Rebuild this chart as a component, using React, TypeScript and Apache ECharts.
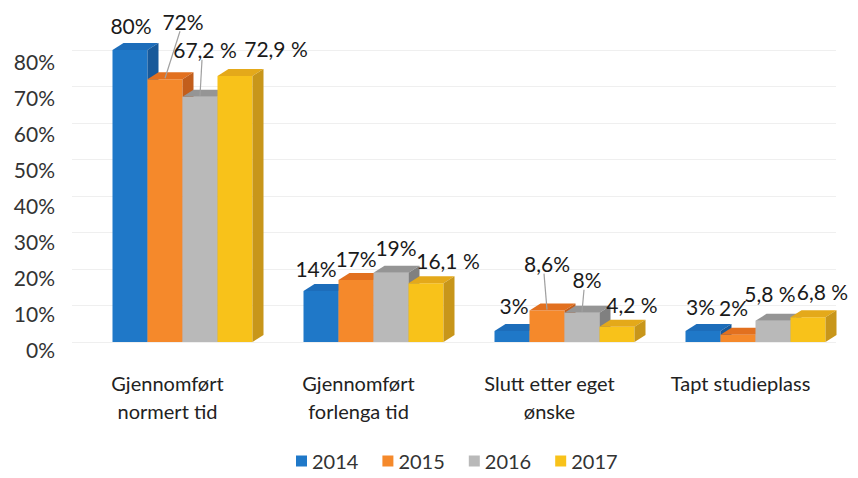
import React, { useEffect, useRef } from "react";
import * as echarts from "echarts";

const categories = [
  "Gjennomført\nnormert tid",
  "Gjennomført\nforlenga tid",
  "Slutt etter eget\nønske",
  "Tapt studieplass",
];
const years = ["2014", "2015", "2016", "2017"];
const values2014 = [80, 14, 3, 3];
const values2015 = [72, 17, 8.6, 2];
const values2016 = [67.2, 19, 8, 5.8];
const values2017 = [72.9, 16.1, 4.2, 6.8];
const labels2014 = ["80%", "14%", "3%", "3%"];
const labels2015 = ["72%", "17%", "8,6%", "2%"];
const labels2016 = ["67,2 %", "19%", "8%", "5,8 %"];
const labels2017 = ["72,9 %", "16,1 %", "4,2 %", "6,8 %"];
const yTicks = [0, 10, 20, 30, 40, 50, 60, 70, 80];

const seriesValues = [values2014, values2015, values2016, values2017];
const seriesLabels = [labels2014, labels2015, labels2016, labels2017];

// styling / layout
const palette = [
  { front: "#1F78C8", top: "#1D6DBA", side: "#17599A" },
  { front: "#F5892B", top: "#E2701F", side: "#C25E1C" },
  { front: "#B9B9B9", top: "#959595", side: "#808080" },
  { front: "#F8C21A", top: "#E4A91A", side: "#C8961A" },
];
const BAR_W = 35;
const SHIFT = 15;
const DX = 11;
const DY = 7;
const FONT = "Lato, 'Open Sans', sans-serif";
const labelNudge = [
  [[-4, -6], [-10, -3], [-3, -7], [-7.5, -6]],
  [[13, -39], [-5, -2], [-5, -28], [-9.5, -8]],
  [[0, -28], [0, -6], [0, -14], [-8, -8]],
  [[36, -8], [17, -4], [10, -3], [9.5, -7]],
];
const leader = [
  [false, false, false, false],
  [true, false, true, false],
  [true, false, true, false],
  [false, false, false, false],
];

function barGeom(s: number, api: any) {
  const cat = api.value(0);
  const v = api.value(1);
  const base = api.coord([cat, 0]);
  const top = api.coord([cat, v]);
  const x0 = base[0] + SHIFT - 2 * BAR_W + s * BAR_W;
  return { x0, x1: x0 + BAR_W, yb: base[1], yt: top[1], cat };
}

export default function App() {
  const ref = useRef<HTMLDivElement>(null);
  useEffect(() => {
    if (!ref.current) return;
    const chart = echarts.init(ref.current, null, { renderer: "svg" });

    const barSeries = years.map((y, s) => ({
      type: "custom",
      name: y,
      z: 2 + s,
      itemStyle: { color: palette[s].front },
      encode: { x: 0, y: 1 },
      data: seriesValues[s].map((v, i) => [i, v]),
      renderItem: (params: any, api: any) => {
        const g = barGeom(s, api);
        const c = palette[s];
        return {
          type: "group",
          children: [
            {
              type: "rect",
              shape: { x: g.x0, y: g.yt, width: BAR_W, height: g.yb - g.yt },
              style: { fill: c.front },
            },
            {
              type: "polygon",
              shape: {
                points: [
                  [g.x0, g.yt],
                  [g.x0 + DX, g.yt - DY],
                  [g.x1 + DX, g.yt - DY],
                  [g.x1, g.yt],
                ],
              },
              style: { fill: c.top },
            },
            {
              type: "polygon",
              shape: {
                points: [
                  [g.x1, g.yt],
                  [g.x1 + DX, g.yt - DY],
                  [g.x1 + DX, g.yb - DY],
                  [g.x1, g.yb],
                ],
              },
              style: { fill: c.side },
            },
          ],
        };
      },
    }));

    const labelSeries = years.map((y, s) => ({
      type: "custom",
      name: "label" + y,
      z: 10,
      encode: { x: 0, y: 1 },
      data: seriesValues[s].map((v, i) => [i, v]),
      renderItem: (params: any, api: any) => {
        const g = barGeom(s, api);
        const i = params.dataIndex;
        const fcx = g.x0 + BAR_W / 2;
        const cx = fcx + 5 + labelNudge[s][i][0];
        const cy = g.yt - DY - 12 + labelNudge[s][i][1];
        const children: any[] = [];
        if (leader[s][i]) {
          children.push({
            type: "line",
            shape: { x1: cx - 3, y1: cy + 10, x2: fcx, y2: g.yt - 1 },
            style: { stroke: "#a0a0a0", lineWidth: 1.2 },
          });
        }
        children.push({
          type: "text",
          style: {
            text: seriesLabels[s][i],
            x: cx,
            y: cy,
            align: "center",
            verticalAlign: "middle",
            font: `21px ${FONT}`,
            fill: "#1a1a1a",
          },
        });
        return { type: "group", children };
      },
    }));

    chart.setOption({
      animation: false,
      backgroundColor: "#fff",
      grid: [
        { left: 72, right: 22, top: 50, bottom: 136, containLabel: false },
        { left: 72, right: 22, top: 61, bottom: 129, containLabel: false },
      ],
      legend: {
        data: years,
        bottom: 2,
        left: 291,
        icon: "rect",
        itemWidth: 11,
        itemHeight: 11,
        itemGap: 24,
        textStyle: { fontFamily: FONT, fontSize: 20, color: "#333" },
      },
      xAxis: [
        {
          type: "category",
          gridIndex: 0,
          data: categories,
          axisLine: { show: false },
          axisTick: { show: false },
          axisLabel: {
            interval: 0,
            margin: 27,
            fontFamily: FONT,
            fontSize: 20,
            lineHeight: 28,
            color: "#222",
          },
        },
        {
          type: "category",
          gridIndex: 1,
          data: categories,
          show: false,
        },
      ],
      yAxis: [
        {
          type: "value",
          gridIndex: 0,
          min: 0,
          max: 80,
          interval: 10,
          axisLine: { show: false },
          axisTick: { show: false },
          axisLabel: { show: false },
          splitLine: { lineStyle: { color: "#efefef", width: 1 } },
        },
        {
          type: "value",
          gridIndex: 1,
          min: 0,
          max: 80,
          interval: 10,
          axisLine: { show: false },
          axisTick: { show: false },
          splitLine: { show: false },
          axisLabel: {
            margin: 17,
            fontFamily: FONT,
            fontSize: 21,
            color: "#333",
            formatter: (v: number) => (yTicks.includes(v) ? v + "%" : ""),
          },
        },
      ],
      series: [...barSeries, ...labelSeries],
    });
    return () => chart.dispose();
  }, []);
  return (
    <div
      ref={ref}
      style={{ position: "fixed", left: 0, top: 0, width: 858, height: 478 }}
    />
  );
}
